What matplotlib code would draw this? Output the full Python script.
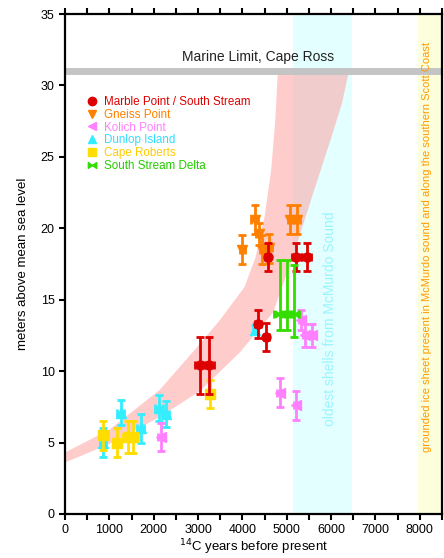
import matplotlib
matplotlib.use("Agg")
import matplotlib.pyplot as plt
from matplotlib.lines import Line2D
import numpy as np

plt.rcParams["font.family"] = ["Liberation Sans", "DejaVu Sans"]

# --- data ---
marble_x = [3050, 3250, 4350, 4540, 4570, 5220, 5450]
marble_y = [10.4, 10.4, 13.3, 12.4, 18.0, 18.0, 18.0]
marble_yerr = [2.0, 2.0, 1.0, 1.0, 1.0, 1.0, 1.0]
marble_xerr = [120, 120, 60, 60, 60, 100, 100]

gneiss_x = [4000, 4280, 4370, 4450, 4600, 5080, 5230]
gneiss_y = [18.5, 20.6, 19.6, 18.5, 18.6, 20.6, 20.6]
gneiss_yerr = [1.0, 1.0, 0.8, 1.0, 1.0, 1.0, 1.0]
gneiss_xerr = [60, 80, 60, 60, 60, 60, 60]

kolich_x = [2160, 4840, 5220, 5330, 5420, 5560]
kolich_y = [5.4, 8.5, 7.6, 13.6, 12.5, 12.5]
kolich_yerr = [1.0, 1.0, 1.0, 0.7, 0.8, 0.8]
kolich_xerr = [60, 60, 60, 60, 60, 60]

dunlop_x = [860, 1260, 1710, 2120, 2270, 4280]
dunlop_y = [5.0, 7.1, 6.0, 7.4, 7.0, 12.9]
dunlop_yerr = [1.0, 0.9, 1.0, 0.9, 0.9, 0.3]
dunlop_xerr = [60, 80, 80, 80, 80, 40]

roberts_x = [860, 1170, 1420, 1530, 3270]
roberts_y = [5.5, 5.0, 5.4, 5.4, 8.4]
roberts_yerr = [1.0, 1.0, 1.1, 1.1, 1.0]
roberts_xerr = [100, 80, 120, 120, 60]

delta_x = [4840, 5000, 5160]
delta_y = [14.0, 14.0, 14.0]
delta_yerr_lo = [1.1, 1.1, 1.6]
delta_yerr_hi = [3.8, 3.8, 3.4]
delta_xerr = [120, 120, 120]

# pink uplift band (edges read at a few x positions)
band_hi_x = [0, 1000, 2140, 3040, 3500, 4050, 4300, 4500, 4650, 4740, 4800]
band_hi_y = [4.3, 5.9, 8.7, 11.9, 13.6, 15.9, 18.0, 20.8, 24.1, 27.5, 31.0]
band_lo_x = [0, 1000, 2140, 3040, 3940, 4690, 5140, 5600, 6000, 6250, 6400]
band_lo_y = [3.6, 4.9, 6.8, 8.6, 11.3, 14.1, 18.0, 22.5, 26.3, 28.8, 31.0]

marine_limit = 31.0
shell_band = (5150, 6480)
ice_band = (7950, 8500)

fig = plt.figure(figsize=(4.44, 5.58), dpi=100)
ax = fig.add_axes([0.1464, 0.0789, 0.849, 0.896])

ax.axvspan(*shell_band, color="#e4ffff", lw=0, zorder=0)
ax.axvspan(*ice_band, color="#fdffdc", lw=0, zorder=0)

# band polygon from the two edges
poly_x = band_hi_x + band_lo_x[::-1]
poly_y = band_hi_y + band_lo_y[::-1]
ax.fill(poly_x, poly_y, color="#ff9a9a", alpha=0.5, lw=0, zorder=1)

ax.axhline(marine_limit, color="#c4c4c4", lw=5, zorder=2)
ax.text(4350, 31.5, "Marine Limit, Cape Ross", ha="center", va="bottom",
        fontsize=10, color="#222222")

ax.text(5970, 13.7, "oldest shells from McMurdo Sound", rotation=90,
        ha="center", va="center", fontsize=10, color="#99f4ff")
ax.text(8170, 18.7,
        "grounded ice sheet present in McMurdo sound and along the southern Scott Coast",
        rotation=90, ha="center", va="center", fontsize=8.0, color="#ff9900")

bowtie = [(-1, -0.7), (1, 0.7), (1, -0.7), (-1, 0.7), (-1, -0.7)]

# (label, x, y, xerr, yerr, colour, marker, text colour, zorder)
series = [
    ("Marble Point / South Stream", marble_x, marble_y, marble_xerr, marble_yerr, "#dd0000", "o", "#dd0000", 8),
    ("Gneiss Point", gneiss_x, gneiss_y, gneiss_xerr, gneiss_yerr, "#ff8000", "v", "#ff8000", 6),
    ("Kolich Point", kolich_x, kolich_y, kolich_xerr, kolich_yerr, "#ff80ff", "<", "#ff80ff", 5),
    ("Dunlop Island", dunlop_x, dunlop_y, dunlop_xerr, dunlop_yerr, "#33eeff", "^", "#33ddff", 4),
    ("Cape Roberts", roberts_x, roberts_y, roberts_xerr, roberts_yerr, "#ffdd00", "s", "#ffcc00", 7),
    ("South Stream Delta", delta_x, delta_y, delta_xerr, [delta_yerr_lo, delta_yerr_hi], "#33dd00", bowtie, "#22cc00", 9),
]

handles = []
for label, x, y, xe, ye, col, mk, tcol, z in series:
    ax.errorbar(x, y, xerr=xe, yerr=ye, fmt="none", ecolor=col, elinewidth=2,
                capsize=3, capthick=2, zorder=z)
    ax.plot(x, y, ls="none", marker=mk, ms=6.5, color=col, mec=col, zorder=z + 0.5)
    handles.append(Line2D([], [], ls="none", marker=mk, ms=6, color=col, mec=col))

leg = ax.legend(handles, [s[0] for s in series], loc="upper left",
                bbox_to_anchor=(0.045, 0.846), frameon=False, fontsize=8.4,
                handlelength=0.9, handletextpad=0.6, labelspacing=0.08,
                borderaxespad=0)
for txt, s in zip(leg.get_texts(), series):
    txt.set_color(s[7])

ax.set_xlim(0, 8500)
ax.set_ylim(0, 35)
ax.set_xticks(np.arange(0, 8001, 1000))
ax.set_xticks(np.arange(500, 8501, 1000), minor=True)
ax.set_yticks(np.arange(0, 36, 5))
ax.tick_params(axis="both", which="both", direction="out", width=1.5,
               labelsize=9, top=True, right=False)
ax.tick_params(which="major", length=4)
ax.tick_params(which="minor", length=4)
for side in ["left", "bottom", "top", "right"]:
    ax.spines[side].set_linewidth(1.6)

ax.set_xlabel("$^{14}$C years before present", fontsize=9.5, labelpad=1)
ax.set_ylabel("meters above mean sea level", fontsize=9.5, labelpad=8)

fig.savefig("out.png", dpi=100)
